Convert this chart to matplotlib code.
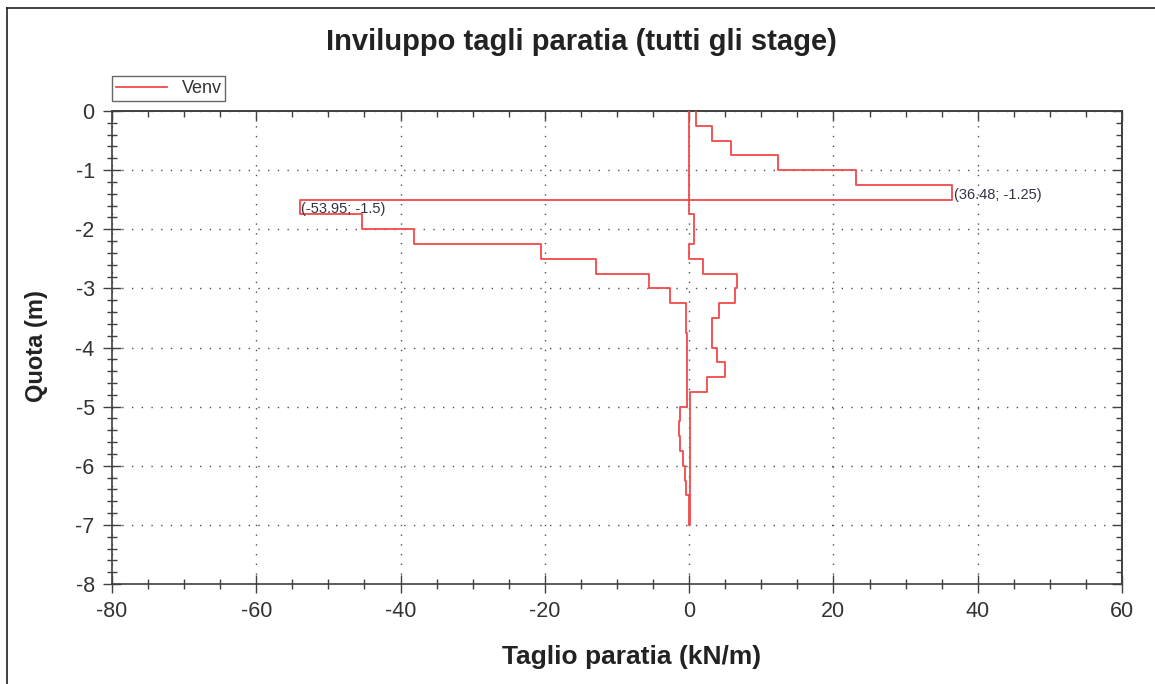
import numpy as np
import matplotlib
matplotlib.use("Agg")
import matplotlib.pyplot as plt
from matplotlib.lines import Line2D
from matplotlib.ticker import MultipleLocator

plt.rcParams['font.family'] = ['Liberation Sans', 'DejaVu Sans']
plt.rcParams['axes.unicode_minus'] = False

# Envelope of positive shear (max): depth edges and values (kN/m)
max_depths = [0, -0.25, -0.5, -0.75, -1.0, -1.25, -1.5, -1.75, -2.25, -2.5, -2.75,
              -3.0, -3.25, -3.5, -4.0, -4.25, -4.5, -4.75, -7.0]
max_values = [1.0, 3.2, 5.8, 12.3, 23.1, 36.48, 0.0, 0.66, 0.0, 1.9,
              6.7, 6.3, 4.2, 3.1, 3.8, 5.0, 2.5, 0.1]

# Envelope of negative shear (min)
min_depths = [0, -1.5, -1.75, -2.0, -2.25, -2.5, -2.75, -3.0, -3.25, -3.75,
              -5.0, -5.25, -5.5, -5.75, -6.0, -6.25, -6.5, -7.0]
min_values = [-0.05, -53.95, -45.4, -38.2, -20.6, -12.9, -5.5, -2.7, -0.5,
              -0.3, -1.2, -1.4, -1.2, -0.8, -0.6, -0.4, -0.05]

annot_points = [(36.48, -1.25), (-53.95, -1.5)]
annot_labels = ["(36.48; -1.25)", "(-53.95; -1.5)"]

series_name = "Venv"
title = "Inviluppo tagli paratia (tutti gli stage)"
xlabel = "Taglio paratia (kN/m)"
ylabel = "Quota (m)"


def step_path(depths, values):
    xs, ys = [], []
    for i, v in enumerate(values):
        xs += [v, v]
        ys += [depths[i], depths[i + 1]]
    return xs, ys


mx, my = step_path(max_depths, max_values)
nx, ny = step_path(min_depths, min_values)
xs = mx + nx[::-1]
ys = my + ny[::-1]

W, H = 1155, 684
fig = plt.figure(figsize=(W / 100, H / 100), dpi=100)
L, R, T, B = 112, 1122, 111, 584
ax = fig.add_axes([L / W, 1 - B / H, (R - L) / W, (B - T) / H])

red = '#f24a4a'
ax.plot(xs, ys, color=red, lw=1.3, label=series_name, zorder=3)

ax.set_xlim(-80, 60)
ax.set_ylim(-8, 0)
ax.xaxis.set_major_locator(MultipleLocator(20))
ax.xaxis.set_minor_locator(MultipleLocator(5))
ax.yaxis.set_major_locator(MultipleLocator(1))
ax.yaxis.set_minor_locator(MultipleLocator(0.2))

spine_c = '#404040'
for s in ax.spines.values():
    s.set_color(spine_c)
    s.set_linewidth(1.2)

ax.tick_params(which='major', direction='inout', length=13, width=1.0, color=spine_c,
               labelsize=15.5, labelcolor='#333333')
ax.tick_params(which='minor', direction='inout', length=6.5, width=1.0, color=spine_c)
ax.tick_params(axis='x', which='major', pad=6)
ax.tick_params(axis='y', which='major', pad=6)

# top and right ticks pointing inwards
sx = ax.secondary_xaxis('top')
sx.xaxis.set_major_locator(MultipleLocator(20))
sx.xaxis.set_minor_locator(MultipleLocator(5))
sx.tick_params(which='major', direction='in', length=7, width=1.0, color=spine_c, labeltop=False)
sx.tick_params(which='minor', direction='in', length=4, width=1.0, color=spine_c)
sx.spines['top'].set_color(spine_c)
sx.spines['top'].set_linewidth(1.2)
sy = ax.secondary_yaxis('right')
sy.yaxis.set_major_locator(MultipleLocator(1))
sy.yaxis.set_minor_locator(MultipleLocator(0.2))
sy.tick_params(which='major', direction='in', length=7, width=1.0, color=spine_c, labelright=False)
sy.tick_params(which='minor', direction='in', length=4, width=1.0, color=spine_c)
sy.spines['right'].set_color(spine_c)
sy.spines['right'].set_linewidth(1.2)

ax.grid(True, which='major', color='#505050', linestyle=(0, (1, 6)), linewidth=1.0)

for (px, py), lab in zip(annot_points, annot_labels):
    ax.annotate(lab, xy=(px, py), xytext=(1, -2), textcoords='offset points',
                ha='left', va='top', fontsize=10.5, color='#333344')

leg = ax.legend(loc='lower left', bbox_to_anchor=(0, 1.022), frameon=True, fancybox=False,
                fontsize=13, handlelength=2.85, borderpad=0.2, handletextpad=0.8,
                borderaxespad=0)
leg.get_frame().set_edgecolor('#404040')
leg.get_frame().set_linewidth(1.0)
for t in leg.get_texts():
    t.set_color('#333333')

fig.text(581 / W, 1 - 42 / H, title, ha='center', va='center', fontsize=21,
         fontweight='bold', color='#222222')
fig.text(632 / W, 1 - 657 / H, xlabel, ha='center', va='center', fontsize=19,
         fontweight='bold', color='#222222')
fig.text(37 / W, 1 - 346 / H, ylabel, ha='center', va='center', fontsize=17,
         fontweight='bold', color='#222222', rotation=90)

# figure frame (left and top edges)
fig.add_artist(Line2D([7 / W, 7 / W], [0, 1 - 8 / H], transform=fig.transFigure,
                      color='#202020', lw=1.2))
fig.add_artist(Line2D([7 / W, 1], [1 - 8 / H, 1 - 8 / H], transform=fig.transFigure,
                      color='#202020', lw=1.2))

fig.savefig('out.png', dpi=100)
